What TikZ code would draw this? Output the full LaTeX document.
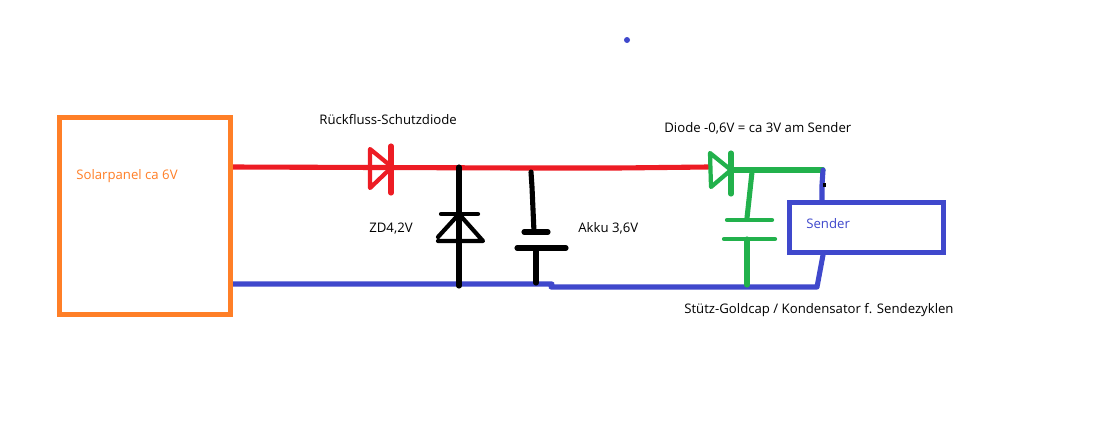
\documentclass[tikz,border=0pt]{standalone}
\usepackage{fontspec}
\setmainfont{Open Sans}
\definecolor{panelorange}{HTML}{FF7F27}
\definecolor{wirered}{HTML}{ED1C24}
\definecolor{wireblue}{HTML}{3F48CC}
\definecolor{wiregreen}{HTML}{22B14C}
\tikzset{
    wire/.style={line width=2.9pt, line cap=round, line join=round},
    redwire/.style={wire, wirered},
    bluewire/.style={wire, wireblue},
    greenwire/.style={wire, wiregreen},
    blackwire/.style={wire, black},
    thinpart/.style={line width=2.4pt},
    block/.style={draw, line width=2.7pt, minimum width=0, minimum height=0, inner sep=0pt},
    caption/.style={anchor=west, inner sep=0pt, font=\fontsize{7.5pt}{9pt}\selectfont},
}

\begin{document}
\begin{tikzpicture}[x=0.02cm, y=-0.02cm]
    \useasboundingbox (0,0) rectangle (1108,447);
    \fill[white] (0,0) rectangle (1108,447);

    % red line from the panel to the second diode
    \coordinate (panelplus) at (232,167);
    \coordinate (redbend) at (526,168);
    \coordinate (rediode) at (392,167);
    \coordinate (greenin) at (708,167);
    \draw[redwire] (panelplus) -- (redbend) -- (617,168) -- (greenin);

    % blue return line
    \coordinate (panelminus) at (232,284);
    \coordinate (bluestep) at (551,287);
    \coordinate (senderminus) at (817,287);
    \coordinate (senderbottom) at (823,255);
    \draw[bluewire] (panelminus) -- (552,284) -- (bluestep) -- (senderminus) -- (senderbottom);

    % blocks
    \node[block, panelorange, minimum width=3.42cm, minimum height=3.94cm] (panel) at (145,216) {};
    \node[block, wireblue, minimum width=3.08cm, minimum height=1cm] (sender) at (866.5,227.5) {};
    \node[circle, fill=wireblue, inner sep=0pt, minimum size=0.12cm] (dot) at (627,40) {};

    % return diode
    \coordinate (rt) at (370,149);
    \coordinate (rb) at (370,188);
    \draw[redwire, thinpart] (rt) -- (rediode) -- (rb) -- cycle;
    \draw[redwire] (391,146) -- (391,193);

    % zener
    \coordinate (ztop) at (459,167);
    \coordinate (zbot) at (459,286);
    \draw[blackwire] (ztop) -- (zbot);
    \draw[blackwire, thinpart] (441,214) -- (478,214);
    \draw[blackwire, thinpart] (438,241) -- (483,241) -- (459,214) -- (438,237);

    % akku
    \coordinate (akkutop) at (531,172);
    \coordinate (akkuplate) at (534,232);
    \coordinate (akkubot) at (536,283);
    \draw[blackwire] (akkutop) -- (532,187) -- (akkuplate);
    \draw[blackwire] (524,232) -- (548,232);
    \draw[blackwire] (517,248) -- (566,248);
    \draw[blackwire] (536,248) -- (akkubot);

    % second diode and goldcap
    \coordinate (gt) at (710,153);
    \coordinate (gb) at (711,187);
    \coordinate (gapex) at (731,170);
    \coordinate (senderplus) at (823,170);
    \draw[greenwire, thinpart] (gt) -- (gapex) -- (gb) -- cycle;
    \draw[greenwire] (731,153) -- (731,194);
    \draw[greenwire] (gapex) -- (senderplus);
    \draw[bluewire] (senderplus) -- (822,185) -- (822,200);
    \fill[black] (823,183) rectangle (826,187);
    \coordinate (captop) at (752,172);
    \coordinate (capbot) at (747,285);
    \draw[greenwire] (captop) -- (747,218);
    \draw[greenwire, thinpart] (727,220) -- (772,220);
    \draw[greenwire, thinpart] (724,239) -- (775,239);
    \draw[greenwire] (747,239) -- (capbot);

    % labels
    \node[caption, text=panelorange] (paneltext) at (76,176) {Solarpanel ca 6V};
    \node[caption] (schutztext) at (319,120) {Rückfluss-Schutzdiode};
    \node[caption] (zdtext) at (369,229) {ZD4,2V};
    \node[caption] (akkutext) at (578,228) {Akku 3,6V};
    \node[caption] (diodetext) at (664,128) {Diode -0,6V = ca 3V am Sender};
    \node[caption, text=wireblue] (sendertext) at (806,224) {Sender};
    \node[caption] (goldcaptext) at (684,310) {Stütz-Goldcap / Kondensator f. Sendezyklen};
\end{tikzpicture}
\end{document}
